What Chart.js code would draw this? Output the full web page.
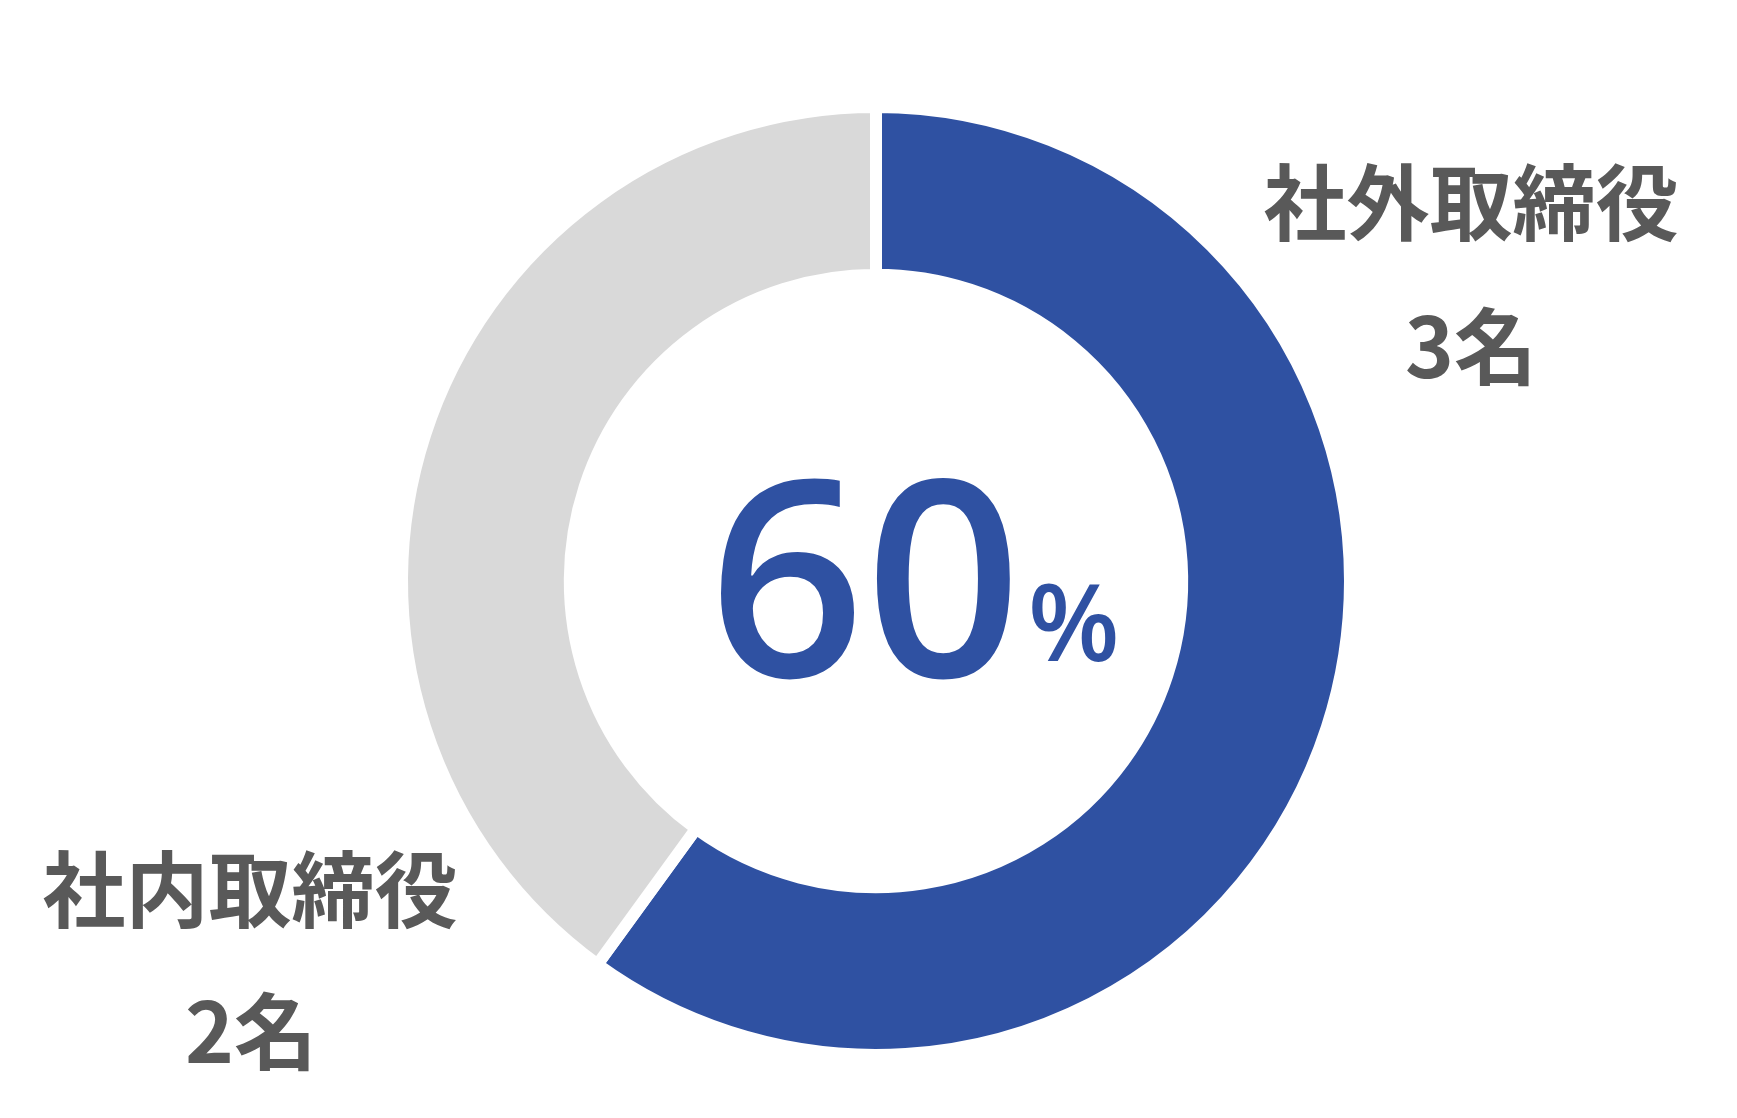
<!DOCTYPE html>
<html lang="ja">
<head>
  <meta charset="UTF-8">
  <title>取締役構成</title>
  <style>
    * { margin: 0; padding: 0; box-sizing: border-box; }
    body { background: #fff; overflow: hidden; }
    .chart-box { position: relative; width: 1737px; height: 1118px; }
  </style>
</head>
<body>
  <div class="chart-box">
    <canvas id="boardChart"></canvas>
  </div>

  <script src="https://cdn.jsdelivr.net/npm/chart.js"></script>
  <script>
    // data
    const categories = ['社外取締役', '社内取締役'];
    const counts = [3, 2];
    const unit = '名';
    const colors = ['#2f51a2', '#d9d9d9'];

    const total = counts.reduce((a, b) => a + b, 0);
    const share = Math.round(counts[0] / total * 100);

    const textGray = '#595959';
    const jpFont = '"Noto Sans CJK JP", "Noto Sans", sans-serif';
    const numFont = '"Open Sans", "Noto Sans", sans-serif';

    // draw text so its ink box is centred on cx (or starts at cx) and sits on bottom
    function putText(ctx, text, font, color, cx, bottom, alignLeft) {
      ctx.font = font;
      ctx.fillStyle = color;
      ctx.textAlign = 'left';
      ctx.textBaseline = 'alphabetic';
      const m = ctx.measureText(text);
      const w = m.actualBoundingBoxLeft + m.actualBoundingBoxRight;
      const x = alignLeft ? cx + m.actualBoundingBoxLeft : cx - w / 2 + m.actualBoundingBoxLeft;
      ctx.fillText(text, x, bottom - m.actualBoundingBoxDescent);
    }

    const labelPlugin = {
      id: 'labels',
      afterDraw(chart) {
        const ctx = chart.ctx;
        ctx.save();
        // centre value
        putText(ctx, String(share), '600 274px ' + numFont, colors[0], 717, 681, true);
        putText(ctx, '%', '600 106px ' + numFont, colors[0], 1032, 662, true);
        // outside labels
        const lab = 'bold 83px ' + jpFont;
        putText(ctx, categories[0], lab, textGray, 1471, 243);
        putText(ctx, counts[0] + unit, lab, textGray, 1468, 387);
        putText(ctx, categories[1], lab, textGray, 250, 930);
        putText(ctx, counts[1] + unit, lab, textGray, 248, 1072);
        ctx.restore();
      }
    };

    new Chart(document.getElementById('boardChart'), {
      type: 'doughnut',
      data: {
        labels: categories,
        datasets: [{
          data: counts,
          backgroundColor: colors,
          borderColor: '#ffffff',
          borderWidth: 12
        }]
      },
      options: {
        responsive: true,
        maintainAspectRatio: false,
        animation: false,
        cutout: '64.6%',
        layout: { padding: { top: 101, bottom: 57, left: 15, right: 0 } },
        plugins: {
          legend: { display: false },
          tooltip: { enabled: false }
        }
      },
      plugins: [labelPlugin]
    });
  </script>
</body>
</html>
